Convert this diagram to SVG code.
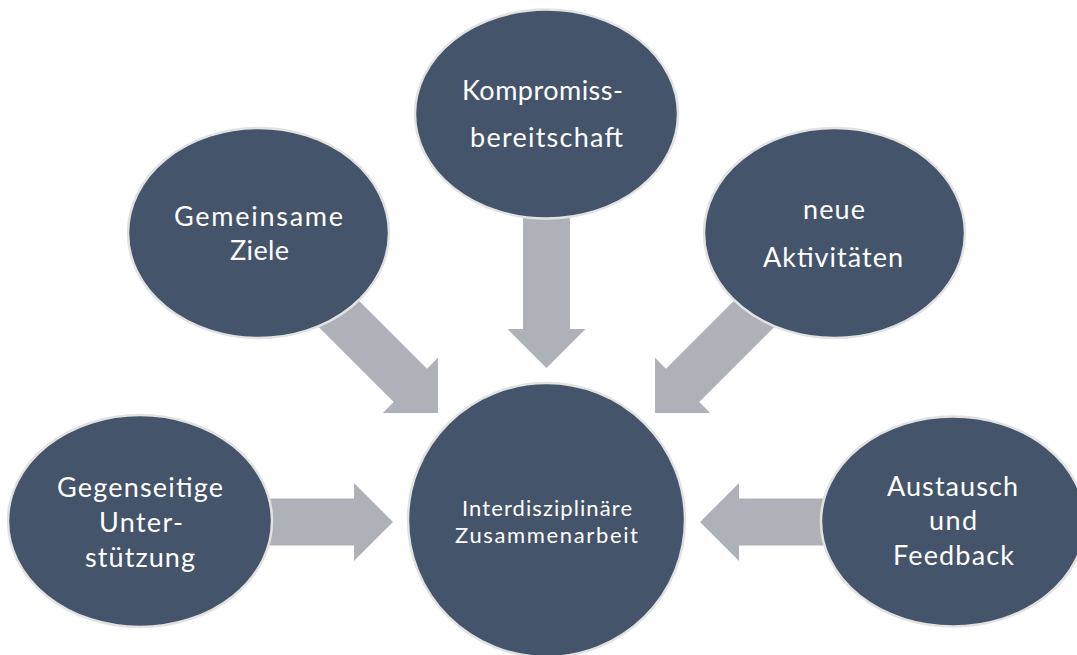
<svg xmlns="http://www.w3.org/2000/svg" width="1077" height="655" viewBox="0 0 1077 655">
<style>
.node{fill:#44546A;stroke:#E2E2E2;stroke-width:2.5}
.arrow{fill:#AEB1B8}
.t{font-family:Lato,"Open Sans",sans-serif;font-size:27px;fill:#FFFFFF;text-anchor:middle}
.s{font-size:22px}
</style>
<defs>
<path id="arr" d="M-160,-23.5 L0,-23.5 L0,-39 L39,0 L0,39 L0,23.5 L-160,23.5 Z"/>
</defs>
<rect width="1077" height="655" fill="#FFFFFF"/>
<g id="connectors">
<path class="arrow" d="M523,190 L570,190 L570,329 L585.5,329 L546.5,368 L507.5,329 L523,329 Z"/>
<path class="arrow" d="M240,498.5 L354,498.5 L354,483 L393,522 L354,561 L354,545.5 L240,545.5 Z"/>
<path class="arrow" d="M853,498.5 L739,498.5 L739,483 L700,522 L739,561 L739,545.5 L853,545.5 Z"/>
<use class="arrow" href="#arr" transform="translate(410.4,385.4) rotate(45)"/>
<use class="arrow" href="#arr" transform="translate(682.6,385.4) rotate(135)"/>
</g>
<g id="node-center">
<ellipse class="node" cx="546.5" cy="520" rx="138.5" ry="137"/>
<text class="t s" x="547" y="516" textLength="170">Interdisziplinäre</text>
<text class="t s" x="546.5" y="543" textLength="183">Zusammenarbeit</text>
</g>
<g id="node-kompromiss">
<ellipse class="node" cx="546.5" cy="114" rx="131.5" ry="104.5"/>
<text class="t" x="542.5" y="100" textLength="161">Kompromiss-</text>
<text class="t" x="546.5" y="147" textLength="153">bereitschaft</text>
</g>
<g id="node-ziele">
<ellipse class="node" cx="258.5" cy="233" rx="130.5" ry="105"/>
<text class="t" x="258.5" y="226" textLength="169">Gemeinsame</text>
<text class="t" x="259.5" y="260" textLength="59">Ziele</text>
</g>
<g id="node-aktivitaeten">
<ellipse class="node" cx="834.5" cy="233" rx="130.5" ry="105"/>
<text class="t" x="834" y="219" textLength="62">neue</text>
<text class="t" x="833" y="267" textLength="140">Aktivitäten</text>
</g>
<g id="node-unterstuetzung">
<ellipse class="node" cx="140" cy="521" rx="132" ry="106"/>
<text class="t" x="140" y="497" textLength="166">Gegenseitige</text>
<text class="t" x="141" y="532" textLength="84">Unter-</text>
<text class="t" x="140" y="567" textLength="110">stützung</text>
</g>
<g id="node-feedback">
<ellipse class="node" cx="953" cy="521.5" rx="132" ry="105"/>
<text class="t" x="952.5" y="496" textLength="131">Austausch</text>
<text class="t" x="953" y="530" textLength="48">und</text>
<text class="t" x="953.5" y="565" textLength="121">Feedback</text>
</g>
</svg>
